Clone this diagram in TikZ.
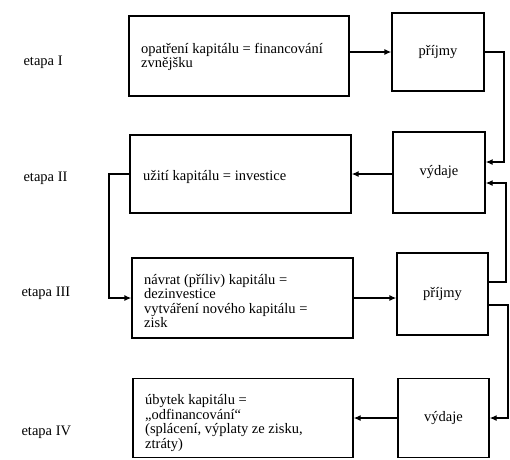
\documentclass[tikz,border=0pt]{standalone}
\usepackage{fontspec}
\setmainfont{Liberation Serif}
\usetikzlibrary{arrows.meta,calc}
\begin{document}
\begin{tikzpicture}[x=1pt,y=-1pt,
  txt/.style={font=\fontsize{14.5}{14.5}\selectfont},
  box/.style={draw,line width=1.3pt,rectangle,inner sep=0pt},
  smallbox/.style={box,txt,align=center},
  conn/.style={line width=1.3pt},
  arr/.style={conn,-{Latex[length=7pt,width=6pt]}},
  boxtext/.style={txt,anchor=west,align=left,inner sep=0pt},
  stage/.style={txt,anchor=west}]
\useasboundingbox (0,0) rectangle (510,459);
% stage labels
\node[stage] (e1) at (20,62) {etapa I};
\node[stage] (e2) at (20,178) {etapa II};
\node[stage] (e3) at (18,293) {etapa III};
\node[stage] (e4) at (18,432) {etapa IV};
% main boxes
\node[box,minimum width=220pt,minimum height=80pt] (b1) at (239,56) {};
\node[box,minimum width=221pt,minimum height=78pt] (b2) at (240.5,174) {};
\node[box,minimum width=221pt,minimum height=80pt] (b3) at (242.5,298) {};
\node[box,minimum width=220pt,minimum height=79pt] (b4) at (243,418) {};
% texts inside main boxes
\node[boxtext] (t1) at (141,57) {opatření kapitálu = financování\\zvnějšku};
\node[boxtext] (t2) at (143,177) {užití kapitálu = investice};
\node[boxtext] (t3) at (144,301) {návrat (příliv) kapitálu =\\dezinvestice\\vytváření nového kapitálu =\\zisk};
\node[boxtext] (t4) at (145,423) {úbytek kapitálu =\\„odfinancování“\\(splácení, výplaty ze zisku,\\ztráty)};
% side boxes
\node[smallbox,minimum width=92pt,minimum height=78pt] (p1) at (438,52) {příjmy};
\node[smallbox,minimum width=92pt,minimum height=81pt] (v1) at (439,172.5) {výdaje};
\node[smallbox,minimum width=91pt,minimum height=82pt] (p2) at (442.5,294) {příjmy};
\node[smallbox,minimum width=91pt,minimum height=79pt] (v2) at (443.5,418) {výdaje};
% helper coordinates
\coordinate (r1) at (504,0);
\coordinate (r2) at (506,0);
\coordinate (r3) at (508,0);
\coordinate (l1) at (109,0);
\coordinate (v1a) at ([yshift=10.5pt]v1.east);
\coordinate (v1b) at ([yshift=-10.5pt]v1.east);
\coordinate (p2a) at ([yshift=12pt]p2.east);
\coordinate (p2b) at ([yshift=-11pt]p2.east);
% connectors
\draw[arr] (b1.east |- p1.west) -- (p1.west);
\draw[arr] (p1.east) -| (r1 |- v1a) -- (v1a);
\draw[arr] (p2a) -| (r2 |- v1b) -- (v1b);
\draw[arr] (p2b) -| (r3 |- v2.east) -- (v2.east);
\draw[arr] (v1.west |- b2.east) -- (b2.east);
\draw[arr] (b2.west) -- (l1 |- b2.west) |- (b3.west);
\draw[arr] (b3.east) -- (b3.east -| p2.west);
\draw[arr] (v2.west) -- (v2.west -| b4.east);
\end{tikzpicture}
\end{document}
